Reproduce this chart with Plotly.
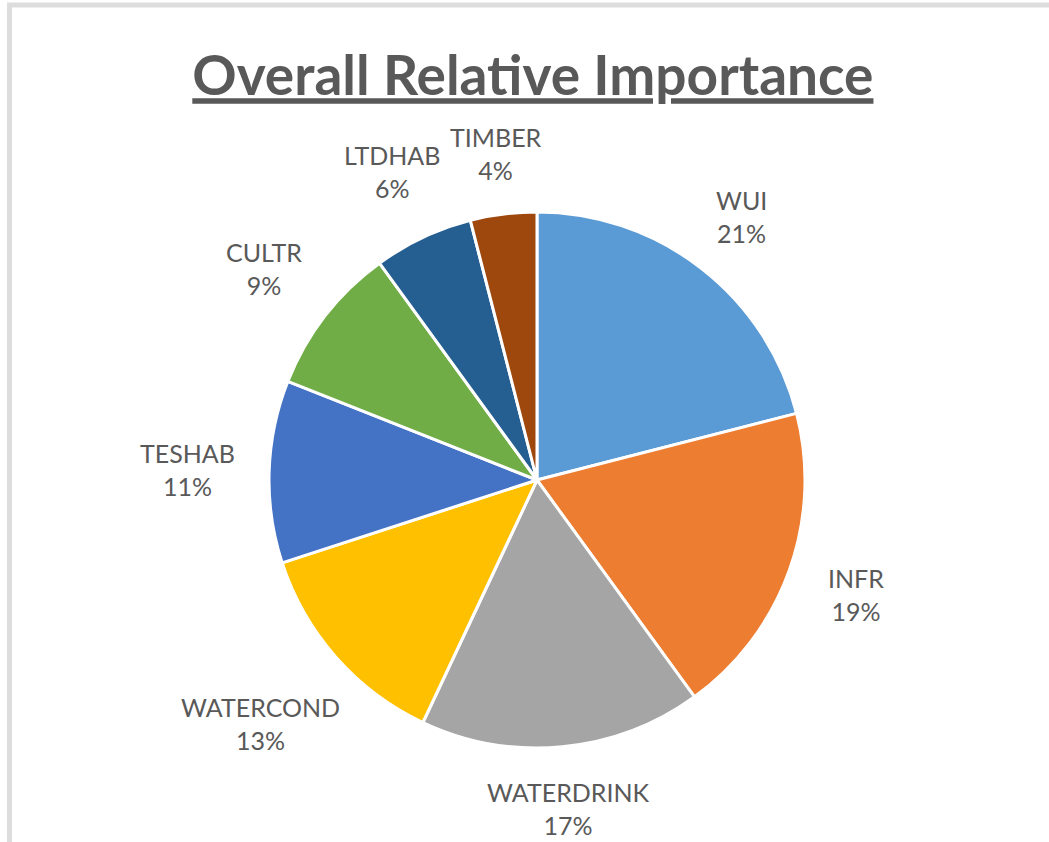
import math
import plotly.graph_objects as go

# ---- data ----
categories = ["WUI", "INFR", "WATERDRINK", "WATERCOND", "TESHAB", "CULTR", "LTDHAB", "TIMBER"]
values = [21, 19, 17, 13, 11, 9, 6, 4]
colors = ["#5B9BD5", "#ED7D31", "#A5A5A5", "#FFC000", "#4472C4", "#70AD47", "#255E91", "#9E480E"]

# ---- layout constants ----
W, H = 1049, 842
CX, CY, R = 537, 480, 268          # pie centre / radius in pixels
LABEL_FONT = 25
LABEL_GAP = 35
VERT_PAD = 20
TEXT_COLOR = "#595959"

fig = go.Figure()
fig.add_trace(go.Pie(
    labels=categories,
    values=values,
    sort=False,
    direction="clockwise",
    rotation=0,
    textinfo="none",
    hoverinfo="label+percent",
    marker=dict(colors=colors, line=dict(color="white", width=3)),
    domain=dict(x=[(CX - R) / W, (CX + R) / W], y=[1 - (CY + R) / H, 1 - (CY - R) / H]),
    showlegend=False,
))

# labels outside the slices, positioned along each slice's mid-angle
total = sum(values)
cum = 0
annotations = []
for cat, v in zip(categories, values):
    mid = (cum + v / 2) / total * 2 * math.pi
    cum += v
    s, c = math.sin(mid), math.cos(mid)
    pct = round(v / total * 100)
    w = 0.62 * LABEL_FONT * max(len(cat), len(f"{pct}%"))
    dist = R + LABEL_GAP + abs(s) * w / 2 + abs(c) * VERT_PAD
    px, py = CX + dist * s, CY - dist * c
    annotations.append(dict(
        x=px / W, y=1 - py / H, xref="paper", yref="paper",
        text=f"{cat}<br>{pct}%", showarrow=False,
        xanchor="center", yanchor="middle", align="center",
        font=dict(family="Lato", size=LABEL_FONT, color=TEXT_COLOR),
    ))

fig.update_layout(
    width=W, height=H,
    margin=dict(l=0, r=0, t=0, b=0),
    paper_bgcolor="white",
    plot_bgcolor="white",
    title=dict(
        text="Overall Relative Importance",
        x=0.508, xanchor="center",
        y=1 - 76 / H, yanchor="middle", yref="container",
        font=dict(family="Lato", size=55, color=TEXT_COLOR, weight="bold", lineposition="under"),
    ),
    annotations=annotations,
    shapes=[
        dict(type="line", xref="paper", yref="paper", x0=7 / W, x1=1, y0=1 - 5 / H, y1=1 - 5 / H,
             line=dict(color="#DDDDDD", width=5)),
        dict(type="line", xref="paper", yref="paper", x0=9.5 / W, x1=9.5 / W, y0=0, y1=1 - 3 / H,
             line=dict(color="#DDDDDD", width=5)),
    ],
)

fig.write_html("out.html")
